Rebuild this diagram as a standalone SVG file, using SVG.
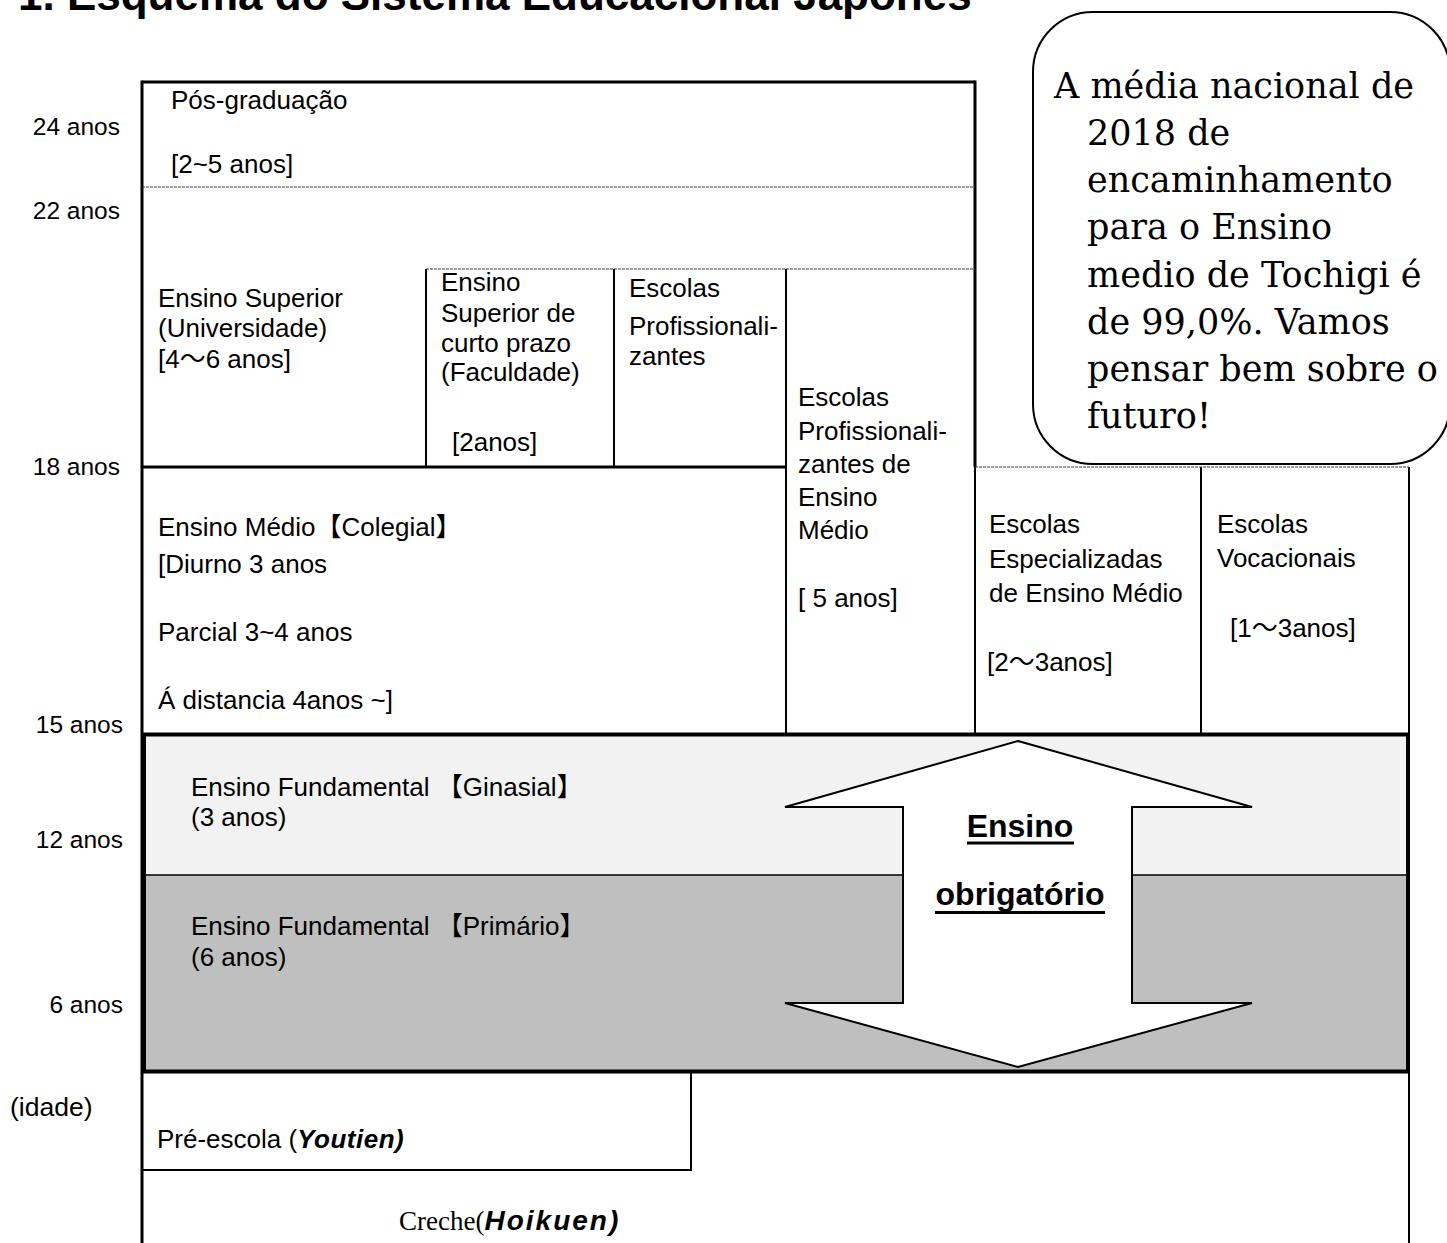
<svg xmlns="http://www.w3.org/2000/svg" width="1447" height="1243" viewBox="0 0 1447 1243">
<style>
.t{font-family:"Liberation Sans","Noto Sans CJK JP",Arial,sans-serif;font-size:26px;fill:#000}
.age{font-family:"Liberation Sans",Arial,sans-serif;font-size:24.5px;fill:#000}
.title{font-family:"Liberation Sans",Arial,sans-serif;font-size:44px;font-weight:bold;fill:#000}
.bub{font-family:"DejaVu Serif","Liberation Serif",serif;font-size:35px;fill:#000}
.bi{font-weight:bold;font-style:italic}
.ser{font-family:"Liberation Serif","Times New Roman",serif;font-size:27px}
.arrowtxt{font-family:"Liberation Sans",Arial,sans-serif;font-size:32px;font-weight:bold;fill:#000}
.thick{stroke:#000;stroke-width:3;fill:none}
.med{stroke:#000;stroke-width:2;fill:none}
.dash{stroke:#333;stroke-width:1;stroke-dasharray:3 1;fill:none}
</style>
<rect width="1447" height="1243" fill="#fff"/>
<text class="title" x="18" y="10">1. Esquema do Sistema Educacional Japonês</text>

<g id="age-labels">
<text class="age" x="120" y="135" text-anchor="end">24 anos</text>
<text class="age" x="120" y="219" text-anchor="end">22 anos</text>
<text class="age" x="120" y="475" text-anchor="end">18 anos</text>
<text class="age" x="123" y="733" text-anchor="end">15 anos</text>
<text class="age" x="123" y="848" text-anchor="end">12 anos</text>
<text class="age" x="123" y="1013" text-anchor="end">6 anos</text>
<text class="age" x="10" y="1116" style="font-size:26.5px">(idade)</text>
</g>

<g id="fundamental-fills">
<rect x="143" y="733" width="1266" height="142" fill="#f2f2f2"/>
<rect x="143" y="875" width="1266" height="198" fill="#bfbfbf"/>
</g>

<g id="grid">
<path class="thick" d="M142,82 H975"/>
<path class="thick" d="M142,80.5 V1243"/>
<path class="thick" d="M975,80.5 V467"/>
<path class="med" d="M975,467 V733"/>
<path class="thick" d="M142,467 H786"/>
<path class="med" d="M426,269 V467 M614,269 V467 M786,269 V733 M1201,467 V733 M1409,467 V1243"/>
<path class="med" d="M142,1170 H691 V1073"/>
<path class="dash" d="M142,187 H975 M426,269 H975 M975,467 H1409"/>
<path d="M143,875 H1409" stroke="#000" stroke-width="1.5"/>
<rect x="144" y="734.5" width="1264" height="337" fill="none" stroke="#000" stroke-width="4"/>
</g>

<g id="pos-graduacao">
<text class="t" x="171" y="109">Pós-graduação</text>
<text class="t" x="171" y="173">[2~5 anos]</text>
</g>

<g id="ensino-superior">
<text class="t" x="158" y="307">Ensino Superior</text>
<text class="t" x="158" y="337">(Universidade)</text>
<text class="t" x="158" y="368">[4～6 anos]</text>
</g>

<g id="ensino-superior-curto-prazo">
<text class="t" x="441" y="291">Ensino</text>
<text class="t" x="441" y="322">Superior de</text>
<text class="t" x="441" y="352">curto prazo</text>
<text class="t" x="441" y="381">(Faculdade)</text>
<text class="t" x="452" y="451">[2anos]</text>
</g>

<g id="escolas-profissionalizantes">
<text class="t" x="629" y="297">Escolas</text>
<text class="t" x="629" y="335">Profissionali-</text>
<text class="t" x="629" y="365">zantes</text>
</g>

<g id="escolas-profissionalizantes-em">
<text class="t" x="798" y="406">Escolas</text>
<text class="t" x="798" y="440">Profissionali-</text>
<text class="t" x="798" y="473">zantes de</text>
<text class="t" x="798" y="506">Ensino</text>
<text class="t" x="798" y="539">Médio</text>
<text class="t" x="798" y="607">[ 5 anos]</text>
</g>

<g id="ensino-medio">
<text class="t" x="158" y="536">Ensino Médio【Colegial】</text>
<text class="t" x="158" y="573">[Diurno 3 anos</text>
<text class="t" x="158" y="641">Parcial 3~4 anos</text>
<text class="t" x="158" y="709">Á distancia 4anos ~]</text>
</g>

<g id="escolas-especializadas">
<text class="t" x="989" y="533">Escolas</text>
<text class="t" x="989" y="568">Especializadas</text>
<text class="t" x="989" y="602">de Ensino Médio</text>
<text class="t" x="987" y="671">[2～3anos]</text>
</g>

<g id="escolas-vocacionais">
<text class="t" x="1217" y="533">Escolas</text>
<text class="t" x="1217" y="567">Vocacionais</text>
<text class="t" x="1230" y="637">[1～3anos]</text>
</g>

<g id="fundamental-ginasial">
<text class="t" x="191" y="796" xml:space="preserve">Ensino Fundamental 【Ginasial】</text>
<text class="t" x="191" y="826">(3 anos)</text>
</g>

<g id="fundamental-primario">
<text class="t" x="191" y="935" xml:space="preserve">Ensino Fundamental 【Primário】</text>
<text class="t" x="191" y="966">(6 anos)</text>
</g>

<g id="ensino-obrigatorio">
<polygon points="1018,741 1252,807 1132,807 1132,1003 1252,1003 1018,1067 785,1003 903,1003 903,807 785,807" fill="#fff" stroke="#000" stroke-width="2"/>
<text class="arrowtxt" x="1020" y="837" text-anchor="middle">Ensino</text>
<rect x="967" y="841.5" width="107" height="3"/>
<text class="arrowtxt" x="1020" y="905" text-anchor="middle">obrigatório</text>
<rect x="935" y="911" width="170" height="3"/>
</g>

<g id="pre-escola">
<text class="t" x="157" y="1148">Pré-escola (<tspan class="bi" style="letter-spacing:0.5px">Youtien)</tspan></text>
</g>

<g id="creche">
<text class="t" x="399" y="1230"><tspan class="ser">Creche(</tspan><tspan class="bi" style="font-size:28px;letter-spacing:2px">Hoikuen)</tspan></text>
</g>

<g id="speech-bubble">
<rect x="1033" y="12" width="417" height="452" rx="60" ry="60" fill="#fff" stroke="#000" stroke-width="2"/>
<text class="bub" x="1054" y="98">A média nacional de</text>
<text class="bub" x="1087" y="145">2018 de</text>
<text class="bub" x="1087" y="192">encaminhamento</text>
<text class="bub" x="1087" y="239">para o Ensino</text>
<text class="bub" x="1087" y="287">medio de Tochigi é</text>
<text class="bub" x="1087" y="334">de 99,0%. Vamos</text>
<text class="bub" x="1087" y="381">pensar bem sobre o</text>
<text class="bub" x="1087" y="428">futuro!</text>
</g>
</svg>
